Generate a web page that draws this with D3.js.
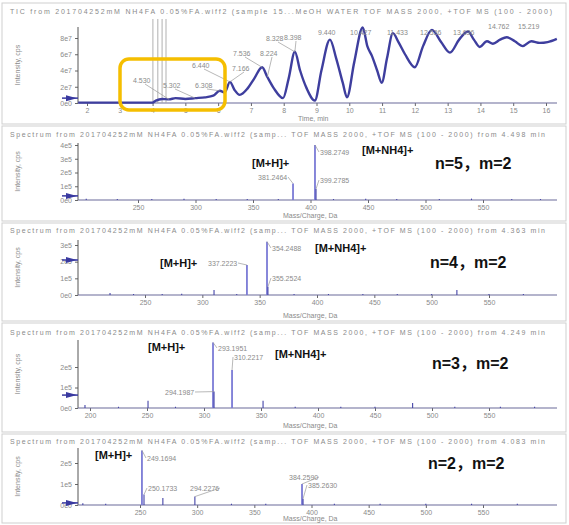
<!DOCTYPE html>
<html><head><meta charset="utf-8">
<script src="https://cdn.jsdelivr.net/npm/d3@7"></script>
<style>body{margin:0;background:#fff} svg{display:block}</style>
</head><body><svg id="c" width="569" height="525"></svg>
<script>
// ---------------- DATA ----------------
// TIC trace (time in min, intensity in 1e7 cps)
const ticTime = [1.73,4.0,4.1,4.3,4.5,4.7,5.0,5.3,5.6,5.85,6.05,6.2,6.36,6.5,6.66,6.9,7.1,7.34,7.5,7.7,7.98,8.15,8.34,8.5,8.7,8.95,9.15,9.41,9.6,9.8,9.93,10.15,10.41,10.55,10.69,10.85,10.99,11.15,11.33,11.5,11.7,12.0,12.25,12.52,12.8,13.07,13.35,13.62,13.8,13.98,14.2,14.38,14.6,14.8,15.05,15.29,15.55,15.81,16.05,16.33];
const ticIntensity = [0.05,0.05,0.3,0.5,0.45,0.6,0.5,0.6,0.7,0.9,1.5,1.3,2.6,1.6,1.0,1.8,3.0,4.4,3.2,1.8,0.6,3.0,6.3,4.0,1.8,0.3,4.0,7.8,5.5,2.5,0.7,5.0,9.3,7.0,5.8,4.0,2.5,5.5,8.6,7.5,6.0,4.4,7.0,9.0,7.5,6.2,7.8,8.8,7.8,6.9,7.6,7.3,7.8,8.1,7.6,7.0,7.6,7.4,7.5,7.9];
const ticXTicks = [2,3,4,5,6,7,8,9,10,11,12,13,14,15,16];
const ticYTicks = [0,2,4,6,8];
const ticYTickLabels = ["0e0","2e7","4e7","6e7","8e7"];
const ticMarkTimes = [4.01,4.16,4.29,4.41];
const ticPeakLabels = ["4.530","5.302","6.440","6.308","7.166","7.536","8.224","8.328","8.398","9.440","10.427","11.433","12.536","13.636","14.762","15.219"];

// Spectra (m/z as read on each axis, intensity in 1e5 cps)
const specN5Mz  = [205,232,262,290,318,345,372,384.8,403.9,404.8,420,448,475,512,540,575,600];
const specN5Int = [0.1,0.07,0.07,0.1,0.07,0.07,0.07,1.2,4.0,0.8,0.07,0.1,0.07,0.07,0.1,0.07,0.07];
const specN4Mz  = [219.5,240,265,282,310.2,330,338.9,356.4,357.2,380,410,440,470,500,522,550,580];
const specN4Int = [0.12,0.06,0.06,0.08,0.3,0.06,1.8,3.2,0.5,0.06,0.06,0.06,0.06,0.06,0.3,0.06,0.06];
const specN3Mz  = [195.6,225,250.9,275,307.9,308.8,324.6,351.8,380,420,450,483,520,560,590];
const specN3Int = [0.15,0.06,0.35,0.06,3.2,0.8,1.85,0.35,0.06,0.06,0.06,0.25,0.06,0.06,0.06];
const specN2Mz  = [200,220,251.7,253.5,270,298,330,360,391.7,392.6,420,460,500,540,580];
const specN2Int = [0.08,0.06,2.6,0.5,0.33,0.4,0.06,0.06,1.0,0.3,0.06,0.06,0.06,0.06,0.06];

const specN5Labels = ["[M+H]+","381.2464","398.2749","399.2785","[M+NH4]+","n=5，m=2"];
const specN4Labels = ["[M+H]+","337.2223","354.2488","355.2524","[M+NH4]+","n=4，m=2"];
const specN3Labels = ["[M+H]+","293.1951","294.1987","310.2217","[M+NH4]+","n=3，m=2"];
const specN2Labels = ["[M+H]+","249.1694","250.1733","294.2276","384.2590","385.2630","n=2，m=2"];
const specXTicksA = [250,300,350,400,450,500,550];
const specXTicksB = [200,250,300,350,400,450,500,550];
const specYTicks4 = [0,1,2,3,4], specYTicks3 = [0,1,2,3], specYTicks2 = [0,1,2];
const specYTickLabels = ["0e0","1e5","2e5","3e5","4e5"];
const titles = [
 "TIC from 201704252mM NH4FA 0.05%FA.wiff2 (sample 15...MeOH WATER   TOF MASS 2000, +TOF MS (100 - 2000)",
 "Spectrum from 201704252mM NH4FA 0.05%FA.wiff2 (samp...  TOF MASS 2000, +TOF MS (100 - 2000) from 4.498 min",
 "Spectrum from 201704252mM NH4FA 0.05%FA.wiff2 (samp...  TOF MASS 2000, +TOF MS (100 - 2000) from 4.363 min",
 "Spectrum from 201704252mM NH4FA 0.05%FA.wiff2 (samp...  TOF MASS 2000, +TOF MS (100 - 2000) from 4.249 min",
 "Spectrum from 201704252mM NH4FA 0.05%FA.wiff2 (samp...  TOF MASS 2000, +TOF MS (100 - 2000) from 4.083 min"
];

// ---------------- LAYOUT / STYLE ----------------
const FONT = "'Liberation Sans', Arial, 'Noto Sans CJK SC', sans-serif";
const GRAY = "#8a8a8a";
const X0 = 78, X1 = 557;
const svg = d3.select("#c");

function tinyText(g, x, y, t, opts = {}) {
  const el = g.append("text").attr("x", x).attr("y", y).text(t)
    .attr("font-family", FONT).attr("font-size", opts.size || 7)
    .attr("fill", opts.fill || GRAY).attr("font-weight", opts.bold ? "bold" : "normal");
  if (opts.len) el.attr("textLength", opts.len).attr("lengthAdjust", "spacing");
  if (opts.anchor) el.attr("text-anchor", opts.anchor);
  return el;
}

function makeX(refA, pxA, refB, pxB) {
  const tmp = d3.scaleLinear().domain([refA, refB]).range([pxA, pxB]);
  return d3.scaleLinear().domain([tmp.invert(X0), tmp.invert(X1)]).range([X0, X1]);
}

function styleAxis(sel) {
  sel.selectAll("text").attr("font-family", FONT).attr("font-size", 7).attr("fill", GRAY);
  sel.selectAll("line").attr("stroke", "#666");
  sel.select(".domain").remove();
}

function frame(top, bottom) {
  svg.append("rect").attr("x", 2).attr("y", top).attr("width", 564).attr("height", bottom - top)
    .attr("fill", "none").attr("stroke", "#cfcfcf").attr("stroke-width", 1);
}

function axes(g, x, y, xTicks, yTicks, yLabels, base, axisTop, xLabel, xLabelX, xLabelY) {
  g.append("g").attr("transform", `translate(${X0},0)`)
    .call(d3.axisLeft(y).tickValues(yTicks).tickFormat((d, i) => yLabels[i]).tickSize(3).tickPadding(3))
    .call(styleAxis);
  g.append("g").attr("transform", `translate(0,${base})`)
    .call(d3.axisBottom(x).tickValues(xTicks).tickSize(3).tickPadding(2))
    .call(styleAxis);
  g.append("line").attr("x1", X0).attr("x2", X0).attr("y1", base).attr("y2", axisTop).attr("stroke", "#555");
  g.append("line").attr("x1", X0).attr("x2", X1).attr("y1", base).attr("y2", base).attr("stroke", "#6a6a9a").attr("stroke-width", 1.2);
  tinyText(g, xLabelX, xLabelY, xLabel);
  tinyText(g, 0, 0, "Intensity, cps", {anchor: "middle"})
    .attr("transform", `translate(20,${(base + axisTop) / 2}) rotate(-90)`);
}

function marker(g, yy) {
  g.append("path").attr("d", `M${X0 - 12},${yy - 3}L${X0 - 1},${yy}L${X0 - 12},${yy + 3}Z`).attr("fill", "#3a3aa0");
  g.append("line").attr("x1", X0 - 16).attr("x2", X0).attr("y1", yy).attr("y2", yy).attr("stroke", "#3a3aa0").attr("stroke-width", 1.5);
}

// ---------------- PANEL 1 : TIC ----------------
frame(3, 124);
const g1 = svg.append("g");
tinyText(g1, 10, 14, titles[0], {len: 542});
const xT = makeX(2, 87, 16, 546);
const yT = d3.scaleLinear().domain([0, 8]).range([103, 38]);
axes(g1, xT, yT, ticXTicks, ticYTicks, ticYTickLabels, 103, 27, "Time, min", 298, 121);
ticMarkTimes.forEach(t => {
  g1.append("line").attr("x1", xT(t)).attr("x2", xT(t)).attr("y1", 19).attr("y2", 103)
    .attr("stroke", "#a8a8a8").attr("stroke-width", 0.9);
});
const ticPts = ticTime.map((t, i) => [t, ticIntensity[i]]);
g1.append("path").datum(ticPts)
  .attr("d", d3.line().x(d => xT(d[0])).y(d => yT(d[1])).curve(d3.curveMonotoneX))
  .attr("fill", "none").attr("stroke", "#3e3e9e").attr("stroke-width", 2.4).attr("stroke-linejoin", "round");
marker(g1, yT(0.6));
// TIC peak labels: [labelIndex, x, y, leader target index or -1]
const ticLabelPos = [[0,133,83,4],[1,163,88,7],[2,192,68,12],[3,195,88,10],[4,232,71,12],[5,233,56,17],[6,260,56,18],[7,266,41,22],[8,284,40,22],[9,318,35,-1],[10,350,35,-1],[11,387,35,-1],[12,420,35,-1],[13,453,35,-1],[14,488,29,-1],[15,518,29,-1]];
ticLabelPos.forEach(([li, x, y, ti]) => {
  tinyText(g1, x, y, ticPeakLabels[li]);
  if (ti >= 0) {
    g1.append("line").attr("x1", x + 12).attr("y1", y + 1).attr("x2", xT(ticTime[ti])).attr("y2", yT(ticIntensity[ti]))
      .attr("stroke", "#999").attr("stroke-width", 0.7);
  }
});
svg.append("rect").attr("x", 120).attr("y", 59).attr("width", 105).attr("height", 51).attr("rx", 9)
  .attr("fill", "none").attr("stroke", "#F5BE00").attr("stroke-width", 3.5);

// ---------------- SPECTRA ----------------
const panels = [
  {top:126,bottom:221,title:titles[1],titleY:137,mz:specN5Mz,int:specN5Int,labels:specN5Labels,
   x:makeX(250,138,550,483),xt:specXTicksA,base:200,ymax:4,ymaxPx:145,axisTop:143,yt:specYTicks4,xl:218,mk:0.3,
   ann:[[0,252,167,1,11,-1],[1,258,180,0,7,7],[2,320,155,0,7,8],[3,320,183,0,7,9],[4,362,154,1,11,-1],[5,435,169,1,16,-1]]},
  {top:223,bottom:321,title:titles[2],titleY:233,mz:specN4Mz,int:specN4Int,labels:specN4Labels,
   x:makeX(250,145,550,489),xt:specXTicksA,base:295,ymax:3,ymaxPx:245,axisTop:240,yt:specYTicks3,xl:318,mk:2.1,
   ann:[[0,160,267,1,11,-1],[1,208,266,0,7,6],[2,272,251,0,7,7],[3,272,281,0,7,8],[4,315,252,1,11,-1],[5,430,268,1,16,-1]]},
  {top:323,bottom:432,title:titles[3],titleY:335,mz:specN3Mz,int:specN3Int,labels:specN3Labels,
   x:makeX(200,90,550,489),xt:specXTicksB,base:408,ymax:2,ymaxPx:367,axisTop:340,yt:specYTicks2,xl:428,mk:0.63,
   ann:[[0,148,351,1,11,-1],[1,218,351,0,7,4],[2,165,395,0,7,5],[3,234,360,0,7,6],[4,275,358,1,11,-1],[5,432,369,1,16,-1]]},
  {top:434,bottom:523,title:titles[4],titleY:444,mz:specN2Mz,int:specN2Int,labels:specN2Labels,
   x:makeX(250,140,550,483),xt:specXTicksA,base:505,ymax:2,ymaxPx:463,axisTop:448,yt:specYTicks2,xl:521,mk:0.1,
   ann:[[0,95,459,1,11,-1],[1,147,461,0,7,2],[2,148,491,0,7,3],[3,190,491,0,7,5],[4,289,480,0,7,8],[5,308,488,0,7,9],[6,428,469,1,16,-1]]}
];

panels.forEach(p => {
  frame(p.top, p.bottom);
  const g = svg.append("g");
  tinyText(g, 10, p.titleY, p.title, {len: 535});
  const y = d3.scaleLinear().domain([0, p.ymax]).range([p.base, p.ymaxPx]);
  axes(g, p.x, y, p.xt, p.yt, specYTickLabels, p.base, p.axisTop, "Mass/Charge, Da", 283, p.xl);
  const pk = p.mz.map((m, i) => ({m, v: p.int[i]}));
  g.selectAll(".big").data(pk.filter(d => d.v >= 1)).enter().append("line")
    .attr("x1", d => p.x(d.m)).attr("x2", d => p.x(d.m)).attr("y1", y(0)).attr("y2", d => y(d.v))
    .attr("stroke", "#7b7bd6").attr("stroke-width", 1.8);
  g.selectAll(".small").data(pk.filter(d => d.v < 1)).enter().append("line")
    .attr("x1", d => p.x(d.m)).attr("x2", d => p.x(d.m)).attr("y1", y(0)).attr("y2", d => y(d.v))
    .attr("stroke", "#4444a8").attr("stroke-width", 1.1);
  marker(g, y(p.mk));
  p.ann.forEach(([li, x, yy, bold, size, pi]) => {
    tinyText(g, x, yy, p.labels[li], bold ? {bold: true, size: size, fill: "#111"} : {});
    if (pi >= 0) {
      g.append("line").attr("x1", p.x(p.mz[pi])).attr("y1", y(p.int[pi]))
        .attr("x2", x < p.x(p.mz[pi]) ? x + 30 : x - 1).attr("y2", yy - 3)
        .attr("stroke", "#999").attr("stroke-width", 0.7);
    }
  });
});
</script></body></html>
